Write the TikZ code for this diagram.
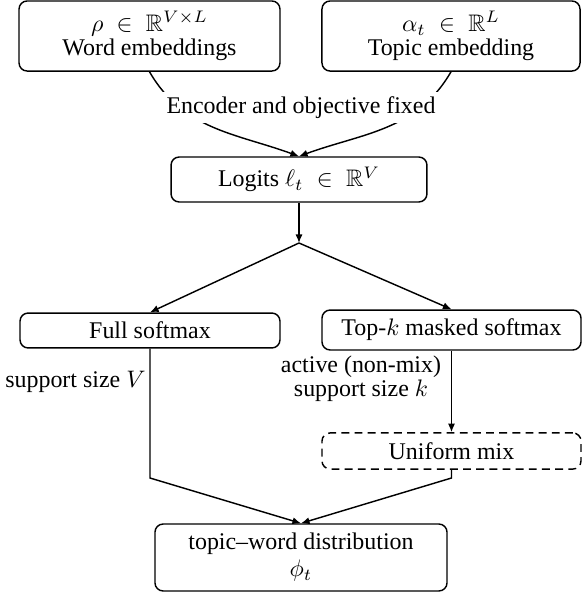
\documentclass[tikz,border=0pt]{standalone}
\usepackage{amssymb}
\usepackage{fontspec}
\setmainfont{Liberation Serif}
\usetikzlibrary{arrows.meta}

\tikzset{
  box/.style={draw, rounded corners=3.4pt, line width=0.6pt, align=center,
    inner sep=2pt, font=\fontsize{10}{10}\selectfont},
  dashbox/.style={box, dash pattern=on 3.3pt off 2.2pt},
  lbl/.style={inner sep=0pt, align=center, font=\fontsize{10}{10}\selectfont},
  conn/.style={line width=0.6pt},
  arr/.style={conn, -{Latex[length=3.6pt,width=3pt]}},
}

\begin{document}
\begin{tikzpicture}[x=0.4181pt, y=-0.4181pt]
  \useasboundingbox (0,0) rectangle (582,594);

  % inputs
  \node[box, minimum width=109.1pt, minimum height=29.3pt] (word) at (149.5,36)
    {$\rho \;\in\; \mathbb{R}^{V\times L}$\\Word embeddings};
  \node[box, minimum width=107.9pt, minimum height=29.3pt] (topic) at (451,36)
    {$\alpha_t \;\in\; \mathbb{R}^{L}$\\Topic embedding};

  % scores
  \node[box, minimum width=107pt, minimum height=18.8pt] (logits) at (299,179.5)
    {Logits $\ell_t \;\in\; \mathbb{R}^{V}$};
  \coordinate (split) at (299,243);

  % two normalisations
  \node[box, minimum width=108.7pt, minimum height=14.6pt] (full) at (150,330.5)
    {Full softmax};
  \node[box, minimum width=108.3pt, minimum height=16.7pt] (topk) at (451.5,330)
    {Top-$k$ masked softmax};
  \node[dashbox, minimum width=108.3pt, minimum height=15.1pt] (uniform) at (451.5,451)
    {Uniform mix};

  % output
  \node[box, minimum width=122.1pt, minimum height=28pt] (final) at (301,557.5)
    {topic--word distribution\\[1.3pt]$\phi_t$};

  \coordinate (lbend) at (150,478);
  \coordinate (rbend) at (451.5,478);

  % encoder edges, partly hidden by their label
  \draw[arr] (word.south) to[out=-60,in=160] (logits.north);
  \draw[arr] (topic.south) to[out=-120,in=20] (logits.north);
  \node[lbl, fill=white, inner sep=2pt] (enc) at (301,107.5)
    {Encoder and objective fixed};

  \draw[arr] (logits.south) -- (split);
  \draw[arr] (split) -- (full.north);
  \draw[arr] (split) -- (topk.north);

  \draw[arr] (topk.south) -- (uniform.north);
  \draw[arr] (full.south) -- (lbend) -- (final.north);
  \draw[arr] (uniform.south) -- (rbend) -- (final.north);

  % edge labels
  \node[lbl, anchor=base east] (supV) at (146,387) {support size $V$};
  \node[lbl] (supk) at (361,378.5) {active (non-mix)\\support size $k$};
\end{tikzpicture}
\end{document}
